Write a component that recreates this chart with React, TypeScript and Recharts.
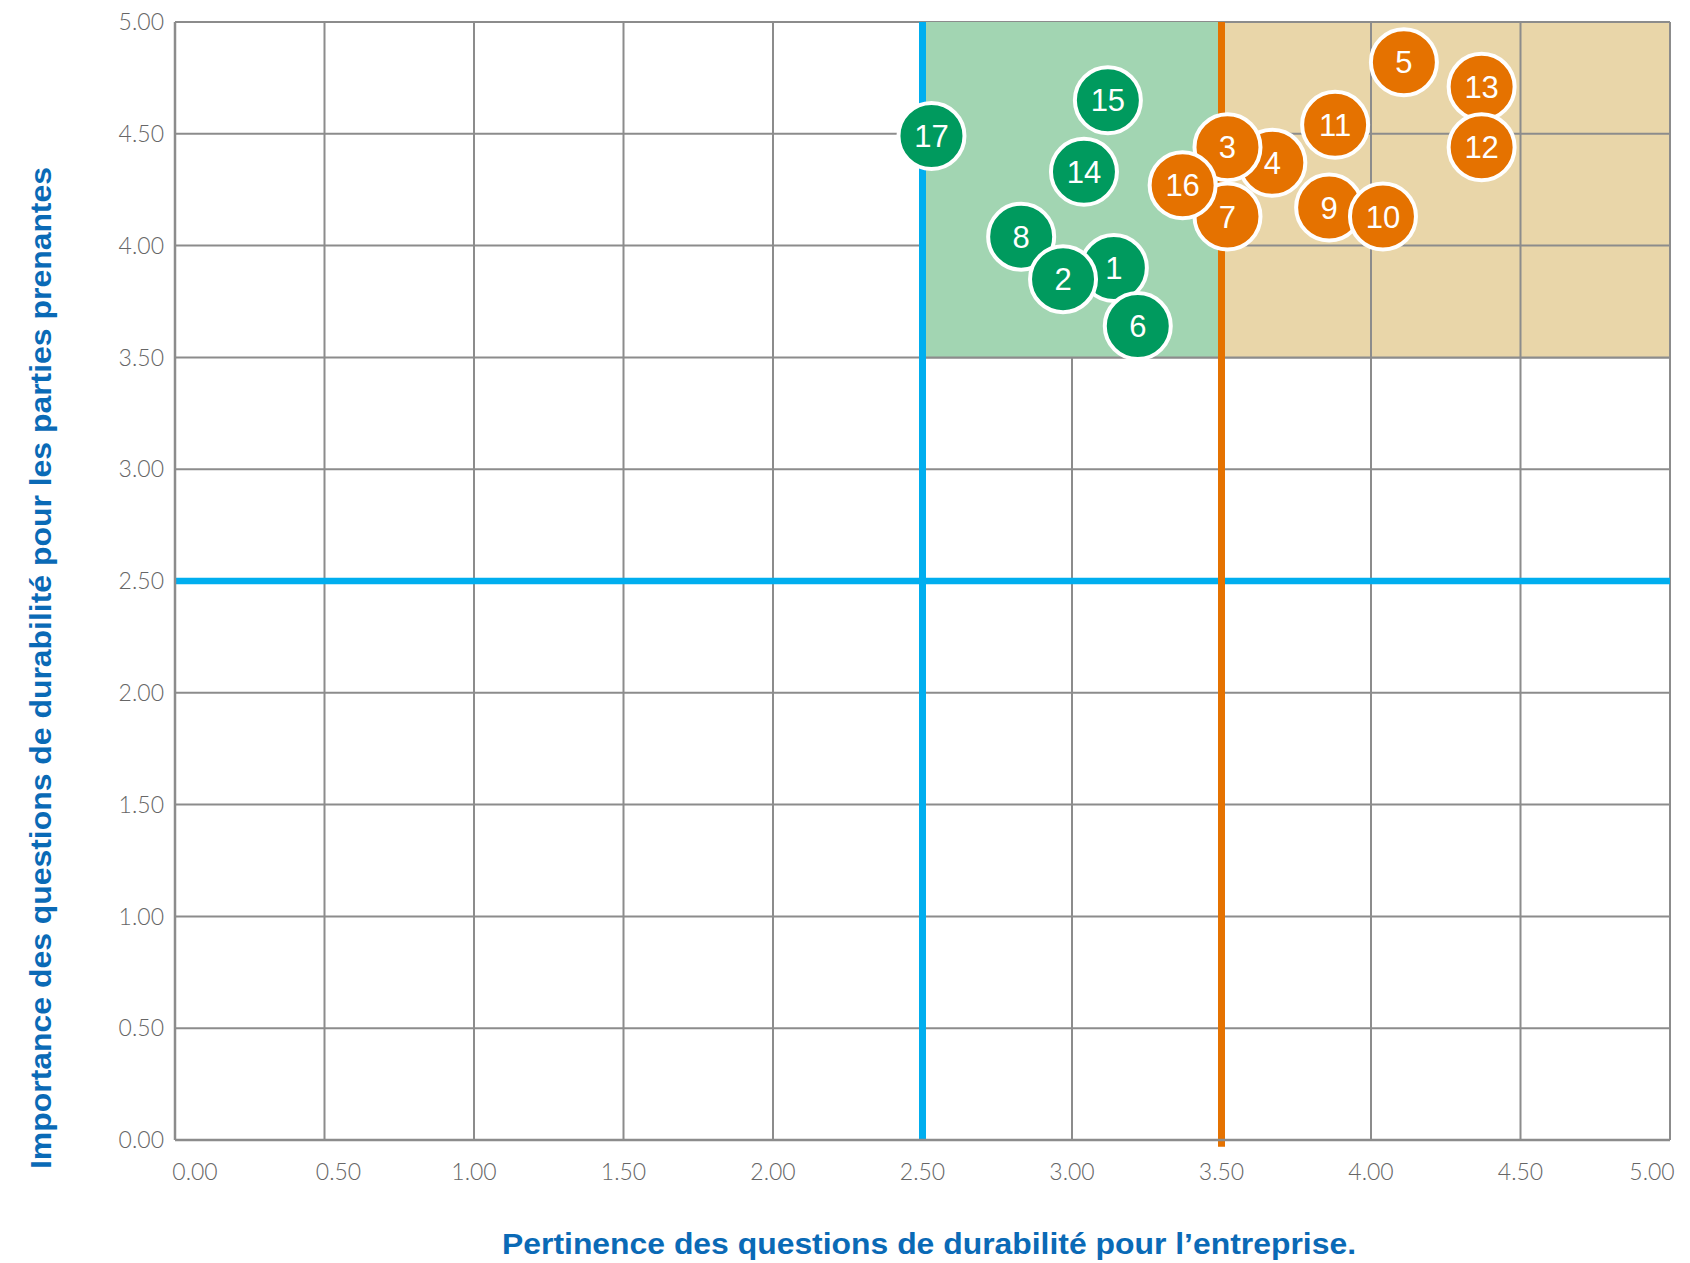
import React from 'react';
import {
  ScatterChart,
  Scatter,
  XAxis,
  YAxis,
  CartesianGrid,
  ReferenceArea,
  ReferenceLine,
  Label,
} from 'recharts';

// tick values shared by both axes
const axisTicks = [0, 0.5, 1, 1.5, 2, 2.5, 3, 3.5, 4, 4.5, 5];

// green issues (listed in drawing order, later ones on top)
const greenIds = [17, 15, 14, 8, 1, 2, 6];
const greenX = [2.53, 3.12, 3.04, 2.83, 3.14, 2.97, 3.22];
const greenY = [4.49, 4.65, 4.33, 4.04, 3.9, 3.85, 3.64];

// orange issues (listed in drawing order)
const orangeIds = [4, 3, 7, 16, 11, 5, 13, 12, 9, 10];
const orangeX = [3.67, 3.52, 3.52, 3.37, 3.88, 4.11, 4.37, 4.37, 3.86, 4.04];
const orangeY = [4.37, 4.44, 4.13, 4.27, 4.54, 4.82, 4.71, 4.44, 4.17, 4.13];

const xTitle = 'Pertinence des questions de durabilité pour l’entreprise.';
const yTitle = 'Importance des questions de durabilité pour les parties prenantes';

const GRID = '#8c8c8c';
const TICK = '#666666';
const TITLE = '#0a6ab6';
const BLUE = '#00aeef';
const ORANGE = '#e57200';
const GREEN = '#009a5e';
const GREEN_ZONE = '#a2d5b2';
const TAN_ZONE = '#e9d6a9';

const greenData = greenIds.map((id, i) => ({ id, x: greenX[i], y: greenY[i] }));
const orangeData = orangeIds.map((id, i) => ({ id, x: orangeX[i], y: orangeY[i] }));

const Bubble = (fill: string) => (props: any) => {
  const { cx, cy, payload } = props;
  return (
    <g>
      <circle cx={cx} cy={cy} r={33} fill={fill} stroke="#fff" strokeWidth={4} />
      <text
        x={cx}
        y={cy}
        dy="0.36em"
        textAnchor="middle"
        fill="#fff"
        fontSize={31}
        fontFamily="'Liberation Sans', Arial, sans-serif"
      >
        {payload.id}
      </text>
    </g>
  );
};

const XTick = (props: any) => {
  const { x, y, payload, index } = props;
  const last = axisTicks.length - 1;
  const shift = index === 0 ? 20 : index === 1 ? 14 : index === last ? -18 : 0;
  return (
    <text
      x={x + shift}
      y={y}
      dy="0.71em"
      textAnchor="middle"
      fill={TICK}
      fontSize={23}
      fontWeight={300}
      fontFamily="Lato, 'Open Sans', sans-serif"
    >
      {payload.value.toFixed(2)}
    </text>
  );
};

const YTick = (props: any) => {
  const { x, y, payload } = props;
  return (
    <text
      x={x}
      y={y}
      dy="0.36em"
      textAnchor="end"
      fill={TICK}
      fontSize={23}
      fontWeight={300}
      fontFamily="Lato, 'Open Sans', sans-serif"
    >
      {payload.value.toFixed(2)}
    </text>
  );
};

const titleFont = "'Liberation Sans', Arial, sans-serif";

const renderXTitle = () => (
  <text
    x={929}
    y={1243}
    dy="0.36em"
    textAnchor="middle"
    fill={TITLE}
    fontSize={30}
    fontWeight="bold"
    fontFamily={titleFont}
    textLength={854}
    lengthAdjust="spacingAndGlyphs"
  >
    {xTitle}
  </text>
);

const renderYTitle = () => (
  <text
    x={41}
    y={668}
    dy="0.36em"
    textAnchor="middle"
    transform="rotate(-90 41 668)"
    fill={TITLE}
    fontSize={29}
    fontWeight="bold"
    fontFamily={titleFont}
    textLength={1002}
    lengthAdjust="spacingAndGlyphs"
  >
    {yTitle}
  </text>
);

// grid segments redrawn on top of the tan zone
const tanGridX = [4, 4.5, 5];
const tanGridY = [3.5, 4, 4.5, 5];

export default function App() {
  return (
    <div style={{ position: 'absolute', left: 0, top: 0, background: '#fff' }}>
      <ScatterChart
        width={1690}
        height={1263}
        margin={{ top: 22, right: 20, bottom: 93, left: 115 }}
      >
        <CartesianGrid stroke={GRID} strokeWidth={2} />
        <XAxis
          type="number"
          dataKey="x"
          domain={[0, 5]}
          ticks={axisTicks}
          interval={0}
          tickLine={false}
          tickSize={6}
          tickMargin={18}
          axisLine={{ stroke: GRID, strokeWidth: 2.5 }}
          tick={<XTick />}
          height={30}
        >
          <Label content={renderXTitle} />
        </XAxis>
        <YAxis
          type="number"
          dataKey="y"
          domain={[0, 5]}
          ticks={axisTicks}
          interval={0}
          tickLine={false}
          tickSize={6}
          tickMargin={5}
          axisLine={{ stroke: GRID, strokeWidth: 2.5 }}
          tick={<YTick />}
          width={60}
        >
          <Label content={renderYTitle} />
        </YAxis>

        <ReferenceArea x1={3.5} x2={5} y1={3.5} y2={5} fill={TAN_ZONE} fillOpacity={1} stroke="none" />
        {tanGridX.map((v) => (
          <ReferenceLine
            key={'gx' + v}
            segment={[{ x: v, y: 3.5 }, { x: v, y: 5 }]}
            stroke={GRID}
            strokeWidth={2}
          />
        ))}
        {tanGridY.map((v) => (
          <ReferenceLine
            key={'gy' + v}
            segment={[{ x: v === 3.5 ? 2.5 : 3.5, y: v }, { x: 5, y: v }]}
            stroke={GRID}
            strokeWidth={2}
          />
        ))}
        <ReferenceArea x1={2.5} x2={3.5} y1={3.5} y2={5} fill={GREEN_ZONE} fillOpacity={1} stroke="none" />

        <ReferenceLine y={2.5} stroke={BLUE} strokeWidth={6.5} />
        <ReferenceLine x={2.5} stroke={BLUE} strokeWidth={7} />
        <ReferenceLine
          segment={[{ x: 3.5, y: -0.03 }, { x: 3.5, y: 5 }]}
          ifOverflow="visible"
          stroke={ORANGE}
          strokeWidth={7}
        />

        <Scatter data={greenData} shape={Bubble(GREEN)} isAnimationActive={false} />
        <Scatter data={orangeData} shape={Bubble(ORANGE)} isAnimationActive={false} />
      </ScatterChart>
    </div>
  );
}
